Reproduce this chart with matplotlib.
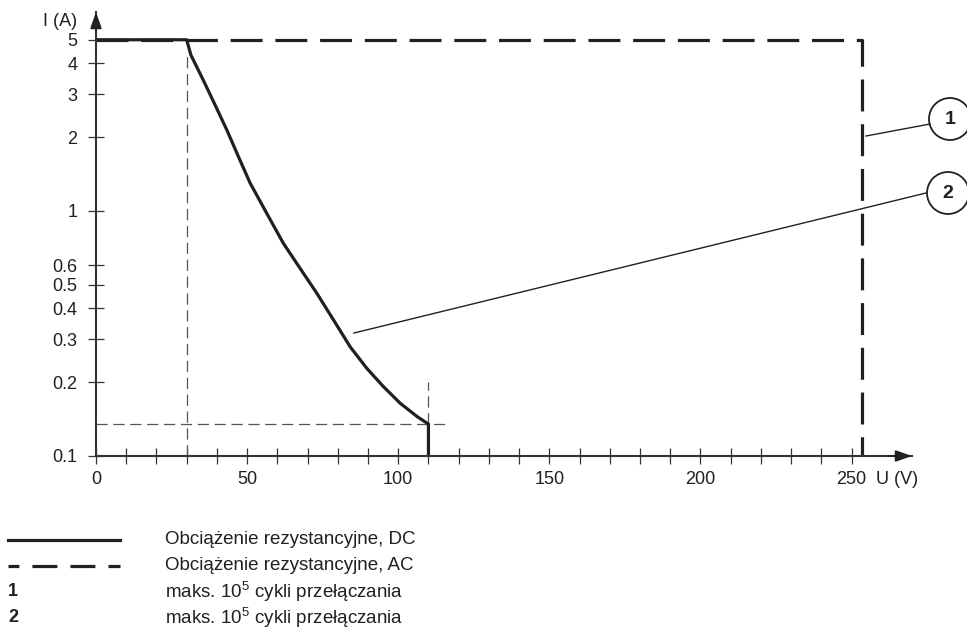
import matplotlib.pyplot as plt
from matplotlib.patches import Circle
from matplotlib.lines import Line2D

# DC resistive load curve, U (V) vs I (A)
dc_u = [0, 30, 31.4, 35.5, 39.4, 43.3, 47.1, 51.0, 56.5, 62.0, 67.5, 73.1,
        78.6, 84.1, 89.6, 95.1, 100.7, 106.2, 110, 110]
dc_i = [5, 5, 4.33, 3.42, 2.71, 2.14, 1.67, 1.30, 0.978, 0.738, 0.584, 0.461,
        0.359, 0.279, 0.228, 0.192, 0.164, 0.145, 0.135, 0.1]

# AC resistive load limit
ac_u = [0, 253.5, 253.5]
ac_i = [5, 5, 0.1]

# thin helper lines
guide_v30_u = [30, 30]
guide_v30_i = [0.1, 4.5]
guide_h_u = [0, 117]
guide_h_i = [0.135, 0.135]
guide_v110_u = [110, 110]
guide_v110_i = [0.135, 0.2]

y_ticks = [0.1, 0.2, 0.3, 0.4, 0.5, 0.6, 1, 2, 3, 4, 5]
y_labels = ["0.1", "0.2", "0.3", "0.4", "0.5", "0.6", "1", "2", "3", "4", "5"]
x_ticks = list(range(0, 251, 10))
x_labels = {0: "0", 50: "50", 100: "100", 150: "150", 200: "200", 250: "250"}

legend_rows = ["Obciążenie rezystancyjne, DC",
               "Obciążenie rezystancyjne, AC",
               "maks. 10$^{5}$ cykli przełączania",
               "maks. 10$^{5}$ cykli przełączania"]

plt.rcParams['font.family'] = ['Liberation Sans', 'DejaVu Sans']
plt.rcParams['mathtext.fontset'] = 'custom'
plt.rcParams['mathtext.rm'] = 'Liberation Sans'
ink = '#231f20'
axc = '#333333'

W, H = 967, 633
fig = plt.figure(figsize=(W / 100, H / 100), dpi=100)
ax = fig.add_axes([96 / W, 1 - 456 / H, (912 - 96) / W, (456 - 12) / H])
ax.set_yscale('log')
ax.set_xlim(0, 270)
ax.set_ylim(0.1, 6.49)

for s in ['top', 'right']:
    ax.spines[s].set_visible(False)
for s in ['left', 'bottom']:
    ax.spines[s].set_color(axc)
    ax.spines[s].set_linewidth(1.5)

ax.set_yticks(y_ticks)
ax.set_yticklabels(y_labels)
ax.yaxis.set_minor_locator(plt.NullLocator())
ax.set_xticks(x_ticks)
ax.set_xticklabels([x_labels.get(t, "") for t in x_ticks])
ax.tick_params(direction='inout', length=11, width=0.9, color=axc,
               labelsize=13, labelcolor=ink, pad=5)
ax.tick_params(axis='y', pad=8)

# arrow heads
ax.annotate('', xy=(1.0, 0), xytext=(0.97, 0), xycoords='axes fraction',
            arrowprops=dict(arrowstyle='-|>,head_length=1.0,head_width=0.35',
                            color=ink, lw=1.2, shrinkA=0, shrinkB=0))
ax.annotate('', xy=(0, 1.0), xytext=(0, 0.96), xycoords='axes fraction',
            arrowprops=dict(arrowstyle='-|>,head_length=1.0,head_width=0.35',
                            color=ink, lw=1.2, shrinkA=0, shrinkB=0))

fig.text(60 / W, 1 - 21 / H, "I (A)", ha='center', va='center', fontsize=13, color=ink)
fig.text(897 / W, 1 - 480 / H, "U (V)", ha='center', va='center', fontsize=13, color=ink)

# guides
g = dict(color='#555555', lw=0.9, dashes=(9, 4.5))
ax.plot(guide_v30_u, guide_v30_i, **g)
ax.plot(guide_h_u, guide_h_i, **g)
ax.plot(guide_v110_u, guide_v110_i, **g)

ax.plot(ac_u, ac_i, color=ink, lw=2.3, dashes=(10, 4))
ax.plot(dc_u, dc_i, color=ink, lw=2.3, solid_joinstyle='round')


# callouts (figure pixel coords)
def fx(px):
    return px / W


def fy(py):
    return 1 - py / H


fig.add_artist(Line2D([fx(354), fx(926)], [fy(333), fy(193)], color=ink, lw=1.0))
fig.add_artist(Line2D([fx(866), fx(930)], [fy(136), fy(124)], color=ink, lw=1.0))
for cx, cy, t in [(950, 119, "1"), (948, 193, "2")]:
    fig.add_artist(Circle((cx, H - cy), 21, transform=None, fill=False,
                          ec=ink, lw=1.3))
    fig.text(fx(cx), fy(cy), t, ha='center', va='center', fontsize=14,
             fontweight='bold', color=ink)

# legend block
rows_y = [540, 566, 592, 618]
fig.add_artist(Line2D([fx(8), fx(120)], [fy(rows_y[0])] * 2, color=ink, lw=2.3))
fig.add_artist(Line2D([fx(8), fx(120)], [fy(rows_y[1])] * 2, color=ink, lw=2.3,
                      linestyle=(4.4, (7.8, 4.1))))
fig.text(fx(8), fy(rows_y[2]), "1", ha='left', va='center', fontsize=13,
         fontweight='bold', color=ink)
fig.text(fx(8), fy(rows_y[3]), "2", ha='left', va='center', fontsize=13,
         fontweight='bold', color=ink)
for yy, t in zip(rows_y, legend_rows):
    fig.text(fx(165), fy(yy), t, ha='left', va='center', fontsize=13.5, color=ink)

fig.savefig('out.png', dpi=100)
